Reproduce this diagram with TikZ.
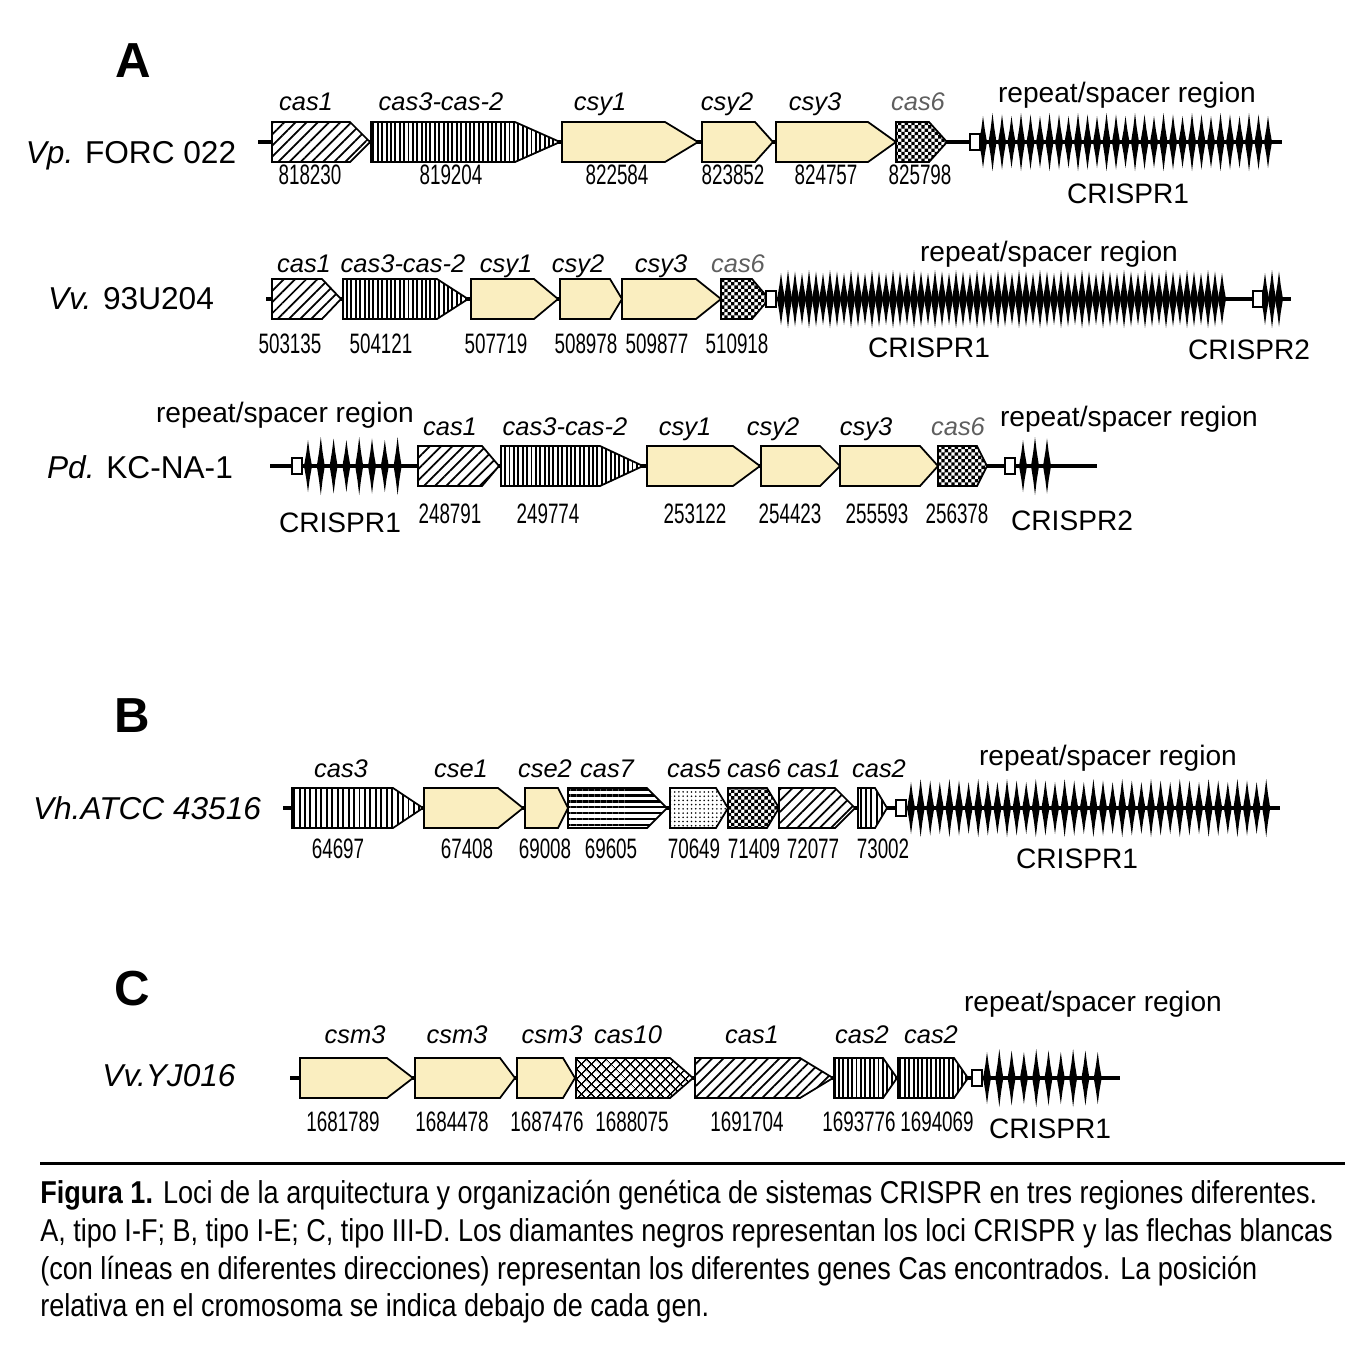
\documentclass[tikz,border=0pt]{standalone}
\usepackage{fontspec}
\setmainfont{Liberation Sans}
\newfontfamily\genenumfont[FakeStretch=0.67]{Liberation Sans}
\newfontfamily\figcapfont[FakeStretch=0.855]{Liberation Sans}
\usetikzlibrary{patterns, patterns.meta}

\definecolor{geneyellow}{RGB}{250,238,192}
\definecolor{labelgray}{RGB}{95,95,95}

\pgfdeclarepatternformonly{smallchecker}{\pgfqpoint{-.1pt}{-.1pt}}{\pgfqpoint{3.9pt}{3.9pt}}{\pgfqpoint{3.8pt}{3.8pt}}{%
  \pgfpathrectangle{\pgfqpoint{0pt}{0pt}}{\pgfqpoint{1.9pt}{1.9pt}}%
  \pgfpathrectangle{\pgfqpoint{1.9pt}{1.9pt}}{\pgfqpoint{1.9pt}{1.9pt}}%
  \pgfusepath{fill}}

% one row of gene arrows: row y, list of left/body end/tip/style
\newcommand{\genes}[2]{%
  \foreach \a/\b/\c/\s in {#2}
    \draw[gene,\s] (\a,#1-20) -- (\b,#1-20) -- (\c,#1) -- (\b,#1+20) -- (\a,#1+20) -- cycle;}
% repeat array: first x, step, last index, row y
\newcommand{\spikes}[4]{%
  \foreach \k in {0,...,#3}{
    \pgfmathsetmacro\sx{#1+\k*#2}
    \pgfmathsetmacro\sh{26+1.5*mod(\k*5,3)}
    \fill (\sx,#4-\sh) -- (\sx+1.7,#4-0.5*\sh) -- (\sx+4,#4) -- (\sx+1.7,#4+0.5*\sh)
      -- (\sx,#4+\sh) -- (\sx-1.7,#4+0.5*\sh) -- (\sx-4,#4) -- (\sx-1.7,#4-0.5*\sh) -- cycle;}}
\newcommand{\leaderbox}[2]{\draw[leader] (#1,#2-8) rectangle (#1+10,#2+8);}

\begin{document}
\begin{tikzpicture}[
    x=0.02cm, y=-0.02cm,
    gene/.style={draw=black, line width=1pt, line join=miter, preaction={fill=white}},
    yel/.style={fill=geneyellow},
    diag/.style={pattern={Lines[angle=45,distance=4.5pt,line width=1pt]}},
    vert/.style={pattern={Lines[angle=90,distance=2.5pt,line width=1.1pt]}},
    vertwide/.style={pattern={Lines[angle=90,distance=3.1pt,line width=1.1pt]}},
    horiz/.style={pattern={Lines[angle=0,distance=3.4pt,line width=1.2pt]}},
    checker/.style={pattern=smallchecker},
    dotfill/.style={pattern={Dots[radius=0.5pt,distance=2.4pt]}},
    cross/.style={pattern={Hatch[angle=45,distance=4pt,line width=0.8pt]}},
    backbone/.style={line width=2.5pt},
    leader/.style={draw=black, fill=white, line width=0.6pt},
    glabel/.style={anchor=base, font=\fontsize{14.5}{17}\selectfont\itshape},
    glabelgray/.style={glabel, text=labelgray},
    numlabel/.style={anchor=base, font=\fontsize{16}{18}\selectfont\genenumfont},
    region/.style={anchor=base, font=\fontsize{16}{18}\selectfont},
    species/.style={anchor=base, font=\fontsize{18}{20}\selectfont},
    panel/.style={anchor=base, font=\fontsize{28}{32}\selectfont\bfseries},
    captext/.style={anchor=base west, inner sep=0pt, font=\fontsize{18}{21}\selectfont\figcapfont}
]
\useasboundingbox (0,0) rectangle (1358,1357);

\node[panel] (panA) at (133,77) {A};
\node[panel] (panB) at (132,732) {B};
\node[panel] (panC) at (132,1005) {C};

% Vp. FORC 022
\node[species] (spA1) at (131,163) {\textit{Vp.} FORC 022};
\draw[backbone] (258,142) -- (1282,142);
\genes{142}{272/350/370/diag, 371/515/560/vert, 562/665/698/yel, 702/755/773/yel, 776/868/896/yel, 896/929/947/checker}
\spikes{983}{9.5}{30}{142}
\leaderbox{970}{142}
\foreach \x/\t/\s [count=\i] in {306/cas1/glabel, 441/cas3-cas-2/glabel, 600/csy1/glabel, 727/csy2/glabel, 815/csy3/glabel, 918/cas6/glabelgray}
  \node[\s] (a1g\i) at (\x,110) {\t};
\foreach \x/\t [count=\i] in {310/818230, 451/819204, 617/822584, 733/823852, 826/824757, 920/825798}
  \node[numlabel] (a1n\i) at (\x,184) {\t};
\node[region] (a1rep) at (1127,102) {repeat/spacer region};
\node[region] (a1cr1) at (1128,203) {CRISPR1};

% Vv. 93U204
\node[species] (spA2) at (131,309) {\textit{Vv.} 93U204};
\draw[backbone] (266,299) -- (1291,299);
\genes{299}{272/322/341/diag, 343/437/468/vert, 471/534/558/yel, 560/610/622/yel, 622/696/721/yel, 721/752/769/checker}
\spikes{781}{7}{63}{299}
\spikes{1265}{7}{2}{299}
\leaderbox{766}{299}
\leaderbox{1253}{299}
\foreach \x/\t/\s [count=\i] in {304/cas1/glabel, 403/cas3-cas-2/glabel, 506/csy1/glabel, 578/csy2/glabel, 661/csy3/glabel, 738/cas6/glabelgray}
  \node[\s] (a2g\i) at (\x,272) {\t};
\foreach \x/\t [count=\i] in {290/503135, 381/504121, 496/507719, 586/508978, 657/509877, 737/510918}
  \node[numlabel] (a2n\i) at (\x,353) {\t};
\node[region] (a2rep) at (1049,261) {repeat/spacer region};
\node[region] (a2cr1) at (929,357) {CRISPR1};
\node[region] (a2cr2) at (1249,359) {CRISPR2};

% Pd. KC-NA-1
\node[species] (spA3) at (140,478) {\textit{Pd.} KC-NA-1};
\draw[backbone] (270,466) -- (1097,466);
\genes{466}{418/482/499/diag, 501/600/643/vert, 647/733/760/yel, 761/820/840/yel, 840/920/938/yel, 938/977/987/checker}
\spikes{308}{12.8}{7}{466}
\spikes{1023}{12}{2}{466}
\leaderbox{292}{466}
\leaderbox{1005}{466}
\foreach \x/\t/\s [count=\i] in {450/cas1/glabel, 565/cas3-cas-2/glabel, 685/csy1/glabel, 773/csy2/glabel, 866/csy3/glabel, 958/cas6/glabelgray}
  \node[\s] (a3g\i) at (\x,435) {\t};
\foreach \x/\t [count=\i] in {450/248791, 548/249774, 695/253122, 790/254423, 877/255593, 957/256378}
  \node[numlabel] (a3n\i) at (\x,523) {\t};
\node[region] (a3repl) at (285,422) {repeat/spacer region};
\node[region] (a3repr) at (1129,426) {repeat/spacer region};
\node[region] (a3cr1) at (340,532) {CRISPR1};
\node[region] (a3cr2) at (1072,530) {CRISPR2};

% Vh.ATCC 43516
\node[species] (spB) at (147,819) {\textit{Vh.ATCC 43516}};
\draw[backbone] (283,808) -- (1280,808);
\genes{808}{292/393/423/vertwide, 424/498/523/yel, 525/558/568/yel, 568/647/667/horiz, 670/716/728/dotfill, 728/767/779/checker, 779/835/855/diag, 858/875/887/vertwide}
\spikes{911}{9.6}{37}{808}
\leaderbox{896}{808}
\foreach \x/\t [count=\i] in {341/cas3, 461/cse1, 545/cse2, 607/cas7, 694/cas5, 754/cas6, 814/cas1, 879/cas2}
  \node[glabel] (bg\i) at (\x,777) {\t};
\foreach \x/\t [count=\i] in {338/64697, 467/67408, 545/69008, 611/69605, 694/70649, 754/71409, 813/72077, 883/73002}
  \node[numlabel] (bn\i) at (\x,858) {\t};
\node[region] (brep) at (1108,765) {repeat/spacer region};
\node[region] (bcr1) at (1077,868) {CRISPR1};

% Vv.YJ016
\node[species] (spC) at (169,1086) {\textit{Vv.YJ016}};
\draw[backbone] (290,1078) -- (1120,1078);
\genes{1078}{300/387/413/yel, 415/500/515/yel, 517/563/575/yel, 576/670/693/cross, 695/800/833/diag, 834/883/897/vert, 898/954/968/vert}
\spikes{987}{12.3}{9}{1078}
\leaderbox{972}{1078}
\foreach \x/\t [count=\i] in {355/csm3, 457/csm3, 552/csm3, 628/cas10, 752/cas1, 862/cas2, 931/cas2}
  \node[glabel] (cg\i) at (\x,1043) {\t};
\foreach \x/\t [count=\i] in {343/1681789, 452/1684478, 547/1687476, 632/1688075, 747/1691704, 859/1693776, 937/1694069}
  \node[numlabel] (cn\i) at (\x,1131) {\t};
\node[region] (crep) at (1093,1011) {repeat/spacer region};
\node[region] (ccr1) at (1050,1138) {CRISPR1};

\draw[line width=1.7pt] (40,1163) -- (1345,1163);
\node[captext] (cap1) at (40,1203) {\textbf{Figura 1.} Loci de la arquitectura y organización genética de sistemas CRISPR en tres regiones diferentes.};
\node[captext] (cap2) at (40,1241) {A, tipo I-F; B, tipo I-E; C, tipo III-D. Los diamantes negros representan los loci CRISPR y las flechas blancas};
\node[captext] (cap3) at (40,1279) {(con líneas en diferentes direcciones) representan los diferentes genes Cas encontrados. La posición};
\node[captext] (cap4) at (40,1316) {relativa en el cromosoma se indica debajo de cada gen.};

\end{tikzpicture}
\end{document}
